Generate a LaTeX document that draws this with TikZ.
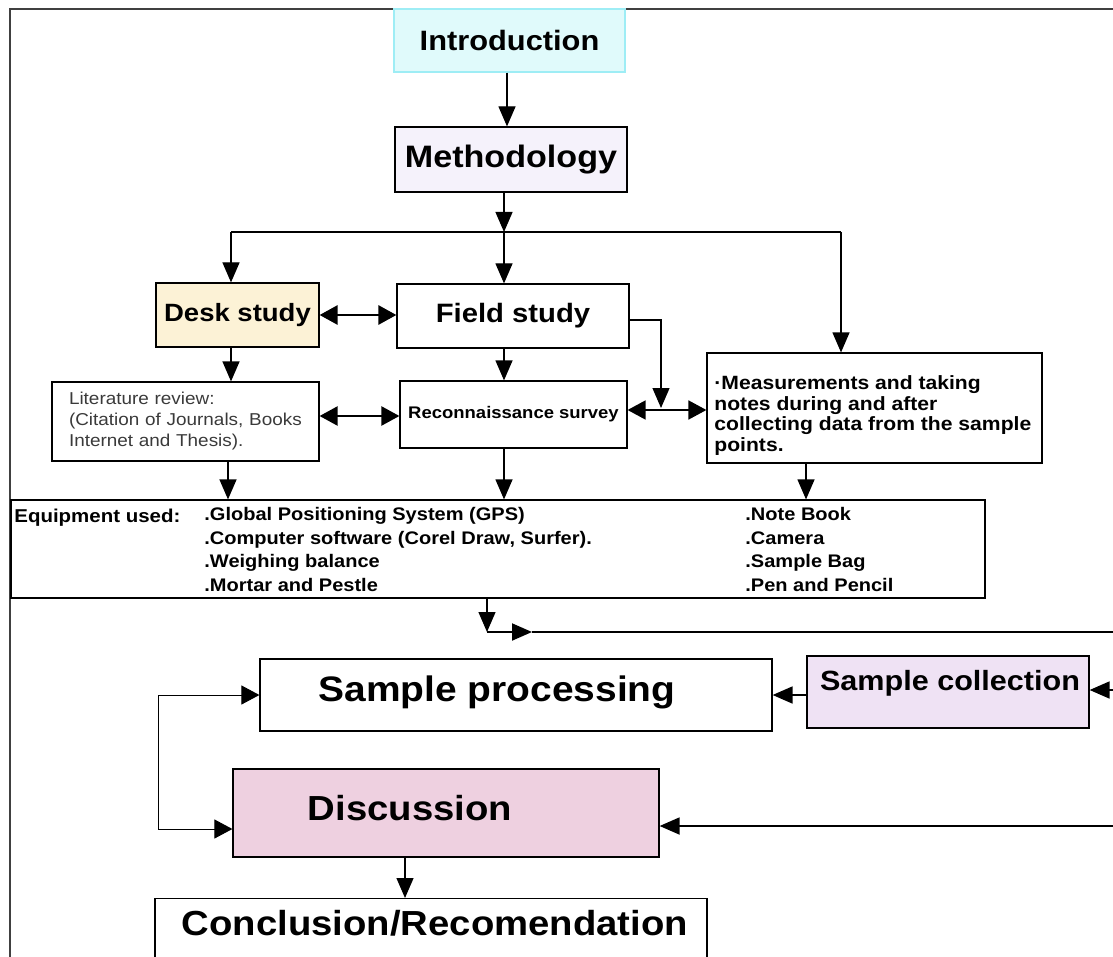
\documentclass[tikz,border=0pt]{standalone}
\usepackage{fontspec}
\setmainfont{Liberation Sans}[FakeStretch=1.1]
\usetikzlibrary{arrows.meta}

\definecolor{framegray}{HTML}{404040}
\definecolor{introfill}{HTML}{E0FAFB}
\definecolor{introline}{HTML}{9EEDF5}
\definecolor{methfill}{HTML}{F5F2FB}
\definecolor{deskfill}{HTML}{FCF2D6}
\definecolor{collfill}{HTML}{EFE2F4}
\definecolor{discfill}{HTML}{EED0E0}
\definecolor{litgray}{HTML}{3A3A3A}

\begin{document}
\begin{tikzpicture}[x=0.5pt, y=-0.5pt,
  every node/.style={inner sep=0pt},
  box/.style={draw, line width=0.6pt},
  arr/.style={-{Triangle[length=10pt, width=8.5pt]}, line width=0.6pt},
  dbl/.style={{Triangle[length=9pt, width=9.5pt]}-{Triangle[length=9pt, width=9.5pt]}},
  heavy/.style={line width=1pt}
]
  \useasboundingbox (0,0) rectangle (1113,957);
  \clip (0,0) rectangle (1113,957);

  % Outer frame
  \draw[framegray, line width=0.6pt] (1113,9) -- (10,9) -- (10,957);

  % Top boxes
  \node[box, draw=introline, fill=introfill, minimum width=115.5pt, minimum height=31.5pt,
    font=\fontsize{14}{17}\selectfont\bfseries] (intro) at (509.5,40.5) {Introduction};
  \node[box, fill=methfill, minimum width=116pt, minimum height=32.5pt,
    font=\fontsize{15.5}{18}\selectfont\bfseries] (method) at (511,159.5) {Methodology};

  % Study boxes
  \node[box, fill=deskfill, minimum width=81.5pt, minimum height=32pt,
    font=\fontsize{12.5}{15}\selectfont\bfseries] (desk) at (237.5,315) {Desk study};
  \node[box, minimum width=116pt, minimum height=32pt,
    font=\fontsize{13.3}{16}\selectfont\bfseries] (field) at (513,316) {Field study};
  \node[box, text width=116.5pt, inner xsep=8.5pt, minimum height=39.5pt, align=left,
    font=\fontsize{8.6}{10.5}\selectfont, text=litgray] (lit) at (185.5,421.5)
    {Literature review:\\(Citation of Journals, Books\\Internet and Thesis).};
  \node[box, minimum width=113.5pt, minimum height=33.5pt,
    font=\fontsize{8.4}{10}\selectfont\bfseries] (recon) at (513.5,414.5) {Reconnaissance survey};
  \node[box, minimum width=167.5pt, minimum height=55pt] (meas) at (874.5,408) {};
  \node[anchor=north west, align=left, font=\fontsize{9.6}{10.35}\selectfont\bfseries] (meas-t) at (714,375)
    {·Measurements and taking\\notes during and after\\collecting data from the sample\\points.};

  % Equipment
  \node[box, minimum width=487pt, minimum height=49pt] (equip) at (498,549) {};
  \node[anchor=north west, font=\fontsize{9.3}{11.75}\selectfont\bfseries] (equip-l) at (14,509) {Equipment used:};
  \node[anchor=north west, align=left, font=\fontsize{9.1}{11.75}\selectfont\bfseries] (equip-a) at (204,507)
    {.Global Positioning System (GPS)\\.Computer software (Corel Draw, Surfer).\\.Weighing balance\\.Mortar and Pestle};
  \node[anchor=north west, align=left, font=\fontsize{9.1}{11.75}\selectfont\bfseries] (equip-b) at (745,507)
    {.Note Book\\.Camera\\.Sample Bag\\.Pen and Pencil};

  % Lower boxes
  \node[box, minimum width=256pt, minimum height=36pt] (proc) at (516,695) {};
  \node[font=\fontsize{17.7}{21}\selectfont\bfseries] (proc-t) at (497,692) {Sample processing};
  \node[box, fill=collfill, minimum width=141pt, minimum height=36pt] (collect) at (948,692) {};
  \node[font=\fontsize{13.9}{17}\selectfont\bfseries] (collect-t) at (950,683) {Sample collection};
  \node[box, fill=discfill, minimum width=213pt, minimum height=44pt] (disc) at (446,813) {};
  \node[font=\fontsize{17.4}{21}\selectfont\bfseries] (disc-t) at (410,808) {Discussion};
  \node[box, minimum width=276pt, minimum height=60pt, anchor=north] (concl) at (431,898) {};
  \node[font=\fontsize{17.4}{21}\selectfont\bfseries] (concl-t) at (435,923) {Conclusion/Recomendation};

  % Connectors, top
  \coordinate (split) at (504,232);
  \coordinate (splitL) at (231,232);
  \coordinate (splitR) at (841,232);
  \draw[arr] (intro.south -| 507,0) -- (method.north -| 507,0);
  \draw[arr] (method.south -| split) -- (split);
  \draw[line width=0.6pt] (splitL) -- (splitR);
  \draw[arr] (splitL) -- (splitL |- desk.north);
  \draw[arr] (split) -- (split |- field.north);
  \draw[arr] (splitR) -- (splitR |- meas.north);

  % Connectors, studies
  \draw[dbl, line width=1.4pt] (desk.east) -- (desk.east -| field.west);
  \draw[arr] (splitL |- desk.south) -- (splitL |- lit.north);
  \draw[arr] (split |- field.south) -- (split |- recon.north);
  \coordinate (fieldR) at (661,408);
  \draw[arr] ([yshift=-2pt]field.east) -| (fieldR);
  \draw[dbl, line width=1.2pt] (lit.east |- 0,416) -- (recon.west |- 0,416);
  \draw[dbl, line width=0.9pt] (recon.east |- 0,410) -- (meas.west |- 0,410);

  % Into equipment
  \draw[arr] (lit.south -| 228,0) -- (equip.north -| 228,0);
  \draw[arr] (recon.south -| split) -- (split |- equip.north);
  \draw[arr] (meas.south -| 806,0) -- (equip.north -| 806,0);

  % Out of equipment
  \coordinate (turn) at (487,632);
  \coordinate (midR) at (532,632);
  \coordinate (edgeT) at (1113,632);
  \draw[arr] (equip.south -| turn) -- (turn);
  \draw[arr, heavy] (turn) -- (midR);
  \draw[heavy] (midR) -- (edgeT);

  % Sample boxes
  \coordinate (edgeC) at (1113,690);
  \draw[arr, line width=0.9pt] (edgeC) -- (collect.east |- edgeC);
  \draw[arr, line width=0.9pt] (collect.west |- proc.east) -- (proc.east);
  \coordinate (loopB) at (158,829);
  \draw[dbl, line width=0.5pt] (proc.west) -| (loopB) -- (disc.west |- loopB);
  \coordinate (edgeD) at (1113,826);
  \draw[arr, line width=0.9pt] (edgeD) -- (disc.east |- edgeD);
  \draw[arr] (disc.south -| 405,0) -- (concl.north -| 405,0);
\end{tikzpicture}
\end{document}
